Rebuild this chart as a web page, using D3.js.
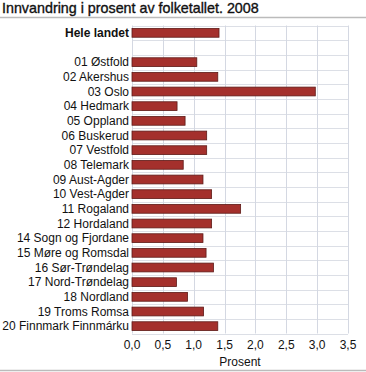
<!DOCTYPE html>
<html><head><meta charset="utf-8">
<script src="https://cdn.jsdelivr.net/npm/d3@7"></script>
<style>body{margin:0;background:#fff;}svg{display:block;font-family:"Liberation Sans",Arial,sans-serif;}</style>
</head><body><svg id="c" width="366" height="372"></svg>
<script>
const categories = ["Hele landet","","01 Østfold","02 Akershus","03 Oslo","04 Hedmark","05 Oppland","06 Buskerud","07 Vestfold","08 Telemark","09 Aust-Agder","10 Vest-Agder","11 Rogaland","12 Hordaland","14 Sogn og Fjordane","15 Møre og Romsdal","16 Sør-Trøndelag","17 Nord-Trøndelag","18 Nordland","19 Troms Romsa","20 Finnmark Finnmárku"];
const values = [1.41,null,1.05,1.39,2.97,0.73,0.86,1.21,1.21,0.83,1.15,1.29,1.76,1.29,1.15,1.20,1.32,0.72,0.90,1.16,1.39];
const ticks = [0,0.5,1,1.5,2,2.5,3,3.5];
const title = "Innvandring i prosent av folketallet. 2008";
const xTitle = "Prosent";

const svg = d3.select("#c");
const m = {left:132, right:348, top:25.5, bottom:333.5};
const x = d3.scaleLinear().domain([0,3.5]).range([m.left,m.right]);
const y = d3.scaleBand().domain(categories.map((d,i)=>i)).range([m.top,m.bottom]).paddingInner(0.4).paddingOuter(0.2);

svg.append("text").attr("x",2).attr("y",13).attr("font-size",14.3).attr("fill","#111")
  .attr("stroke","#111").attr("stroke-width",0.35).text(title);
svg.append("line").attr("x1",0).attr("x2",366).attr("y1",17.5).attr("y2",17.5).attr("stroke","#bbb").attr("stroke-width",1.5);
svg.append("line").attr("x1",0).attr("x2",366).attr("y1",370.5).attr("y2",370.5).attr("stroke","#bbb").attr("stroke-width",1.5);

const step = y.step();
const g = svg.append("g");
for (let i=0;i<=categories.length;i++){
  const yy = Math.round(m.top + i*step)+0.5;
  g.append("line").attr("x1",m.left).attr("x2",m.right).attr("y1",yy).attr("y2",yy).attr("stroke","#dcdfe6").attr("stroke-width",1);
}
ticks.forEach(t=>{
  const xx = Math.round(x(t))+0.5;
  g.append("line").attr("x1",xx).attr("x2",xx).attr("y1",m.top).attr("y2",m.bottom).attr("stroke","#d4d8e2").attr("stroke-width",1);
});

svg.append("g").selectAll("rect").data(values.map((v,i)=>({v,i})).filter(d=>d.v!=null)).join("rect")
  .attr("x",x(0)).attr("y",d=>y(d.i)).attr("width",d=>x(d.v)-x(0)).attr("height",y.bandwidth())
  .attr("fill","#a4302c").attr("stroke","#5e1b18").attr("stroke-width",0.8);

svg.append("g").selectAll("text").data(categories).join("text")
  .attr("x",m.left-3).attr("y",(d,i)=>y(i)+y.bandwidth()/2).attr("dy","0.35em")
  .attr("text-anchor","end").attr("font-size",12).attr("fill","#111")
  .attr("font-weight",(d,i)=>i===0?"bold":"normal").text(d=>d);

const fmt = d=>d.toFixed(1).replace(".",",");
svg.append("g").selectAll("text").data(ticks).join("text")
  .attr("x",d=>x(d)).attr("y",349).attr("text-anchor","middle").attr("font-size",12).attr("fill","#111").text(fmt);
svg.append("text").attr("x",(m.left+m.right)/2).attr("y",366).attr("text-anchor","middle").attr("font-size",12).attr("fill","#111").text(xTitle);
</script></body></html>
